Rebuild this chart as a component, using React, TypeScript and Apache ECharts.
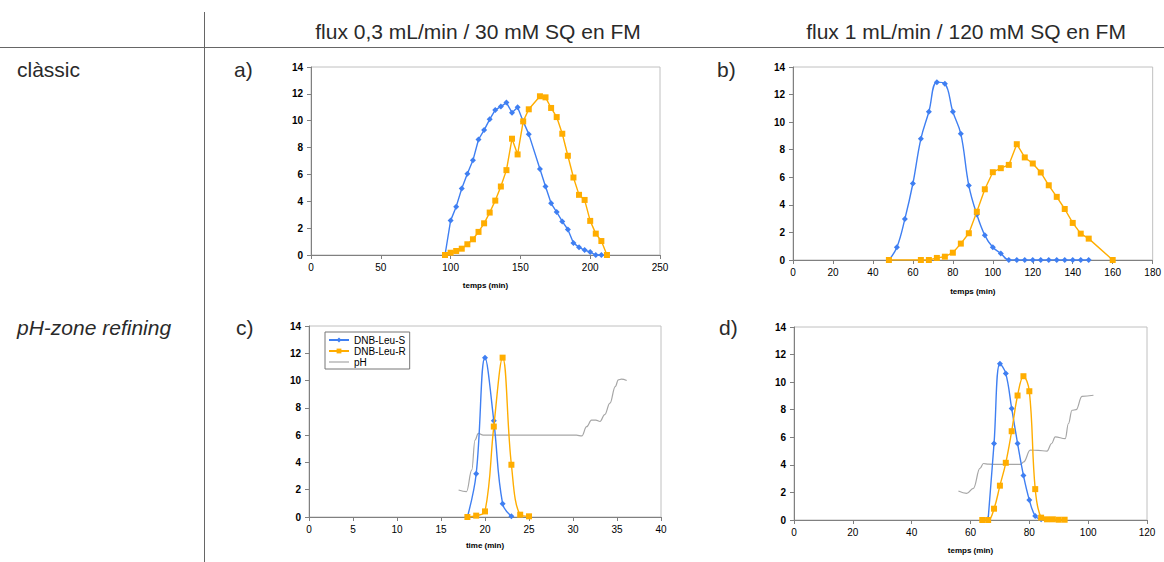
import React, { useEffect, useRef } from "react";
import * as echarts from "echarts";

// ---------- data ----------
// panel a) classic, 0.3 mL/min
const aTime = [96, 100, 104, 108, 112, 116, 120, 124, 128, 132, 136, 140, 144, 148, 152, 156, 164, 168, 172, 176, 180, 184, 188, 192, 196, 200, 204, 208, 212];
const aS = [0, 2.56, 3.6, 4.95, 6.05, 7.05, 8.6, 9.3, 10.1, 10.8, 11.05, 11.35, 10.6, 11.0, 9.95, 9.0, 6.4, 5.1, 3.85, 3.2, 2.5, 1.9, 0.9, 0.57, 0.37, 0.22, 0, 0, null];
const aR = [0, 0.17, 0.3, 0.47, 0.8, 1.17, 1.72, 2.36, 3.16, 4.05, 5.1, 6.32, 8.66, 7.49, 9.95, 10.85, 11.82, 11.74, 10.95, 10.27, 9.03, 7.39, 5.77, 4.48, 4.1, 2.54, 1.59, 1.04, 0];

// panel b) classic, 1 mL/min
const bTimeS = [48, 52, 56, 60, 64, 68, 72, 76, 80, 84, 88, 92, 96, 100, 104, 108, 112, 116, 120, 124, 128, 132, 136, 140, 144, 148];
const bS = [0, 0.92, 2.98, 5.55, 8.79, 10.75, 12.9, 12.79, 10.75, 9.15, 5.4, 3.3, 1.79, 0.92, 0.48, 0, 0, 0, 0, 0, 0, 0, 0, 0, 0, 0];
const bTimeR = [48, 64, 68, 72, 76, 80, 84, 88, 92, 96, 100, 104, 108, 112, 116, 120, 124, 128, 132, 136, 140, 144, 148, 160];
const bR = [0, 0, 0, 0.15, 0.24, 0.53, 1.19, 1.94, 3.5, 5.13, 6.37, 6.66, 6.9, 8.4, 7.44, 7.0, 6.35, 5.42, 4.58, 3.7, 2.69, 1.91, 1.55, 0];

// panel c) pH-zone refining, 0.3 mL/min
const cTime = [18, 19, 20, 21, 22, 23, 24, 25];
const cS = [0, 3.17, 11.68, 7.05, 0.98, 0.05, null, null];
const cR = [0, 0.1, 0.41, 6.63, 11.68, 3.83, 0.17, 0.05];
const cPhTime = [17, 17.9, 18.5, 18.86, 19.24, 19.8, 21, 23, 25, 27, 29, 30.4, 31.0, 31.55, 32.1, 32.6, 33.07, 33.6, 34.2, 34.8, 35.15, 35.5, 36.1];
const cPh = [1.98, 1.86, 3.45, 5.64, 6.13, 6.0, 6.0, 6.0, 6.0, 6.0, 6.0, 6.0, 5.94, 6.62, 7.1, 7.1, 7.0, 7.5, 8.34, 9.56, 10.05, 10.1, 10.0];

// panel d) pH-zone refining, 1 mL/min
const dTimeS = [66, 68, 70, 72, 74, 76, 78, 80, 82, 84];
const dS = [0.07, 5.55, 11.34, 10.62, 8.09, 5.55, 3.23, 1.45, 0.29, 0.05];
const dTimeR = [64, 66, 68, 70, 72, 74, 76, 78, 80, 82, 84, 86, 88, 90, 92];
const dR = [0, 0, 0.82, 2.49, 4.15, 6.44, 9.03, 10.43, 9.34, 2.24, 0.17, 0.05, 0.05, 0.02, 0.02];
const dPhTime = [55.9, 58.7, 61, 63.2, 64.4, 66.1, 70, 74, 77, 78.1, 80.3, 83, 86, 87.6, 88.8, 92.2, 93.3, 94.5, 95.9, 97.9, 101.8];
const dPh = [2.1, 1.93, 2.3, 3.74, 4.1, 4.05, 4.03, 4.03, 4.03, 4.22, 5.07, 5.05, 5.0, 5.55, 6.03, 5.9, 7.0, 7.96, 8.0, 8.97, 9.05];

const headers = ["flux 0,3 mL/min / 30 mM SQ en FM", "flux 1 mL/min / 120 mM SQ en FM"];
const rowLabels = ["clàssic", "pH-zone refining"];
const panelLabels = ["a)", "b)", "c)", "d)"];
const xTitles = ["temps (min)", "temps (min)", "time (min)", "temps (min)"];
const xMax = [250, 180, 40, 120];
const xStep = [50, 20, 5, 20];
const seriesNames = ["DNB-Leu-S", "DNB-Leu-R", "pH"];

const FONT = "'Liberation Sans', Arial, Helvetica, sans-serif";
const BLUE = "#3f7ff2";
const ORANGE = "#ffad00";
const GRAY = "#a6a6a6";

const zip = (xs: number[], ys: (number | null)[]) => xs.map((x, i) => [x, ys[i]]);

export default function App() {
  const ref = useRef<HTMLDivElement>(null);
  useEffect(() => {
    if (!ref.current) return;
    const chart = echarts.init(ref.current, undefined, { renderer: "svg" });

    const grids = [
      { left: 311, top: 67, width: 349, height: 188 },
      { left: 793, top: 67, width: 360, height: 193 },
      { left: 309, top: 326, width: 352, height: 191 },
      { left: 794, top: 327, width: 353, height: 193 },
    ];
    const nameGaps = [26, 27, 24, 26];

    const xAxes = grids.map((_, i) => ({
      type: "value",
      gridIndex: i,
      min: 0,
      max: xMax[i],
      interval: xStep[i],
      name: xTitles[i],
      nameLocation: "middle",
      nameGap: nameGaps[i],
      nameTextStyle: { fontFamily: FONT, fontSize: 8, fontWeight: "bold", color: "#000" },
      axisLine: { show: true, lineStyle: { color: "#808080", width: 1 } },
      axisTick: { show: true, inside: false, length: 4, lineStyle: { color: "#808080" } },
      axisLabel: { fontFamily: FONT, fontSize: 10, color: "#000", margin: 7 },
      splitLine: { show: false },
    }));
    const yAxes = grids.map((_, i) => ({
      type: "value",
      gridIndex: i,
      min: 0,
      max: 14,
      interval: 2,
      axisLine: { show: true, lineStyle: { color: "#808080", width: 1 } },
      axisTick: { show: true, inside: false, length: 4, lineStyle: { color: "#808080" } },
      axisLabel: { fontFamily: FONT, fontSize: 10, fontWeight: "bold", color: "#000", margin: 8 },
      splitLine: { show: false },
    }));

    const sLine = (i: number, data: any[], smooth: number | boolean) => ({
      name: seriesNames[0],
      type: "line",
      xAxisIndex: i,
      yAxisIndex: i,
      data,
      smooth,
      symbol: "diamond",
      symbolSize: 6,
      showAllSymbol: true,
      lineStyle: { color: BLUE, width: 1.4 },
      itemStyle: { color: BLUE },
      z: 3,
    });
    const rLine = (i: number, data: any[], smooth: number | boolean) => ({
      name: seriesNames[1],
      type: "line",
      xAxisIndex: i,
      yAxisIndex: i,
      data,
      smooth,
      symbol: "rect",
      symbolSize: 6,
      showAllSymbol: true,
      lineStyle: { color: ORANGE, width: 1.4 },
      itemStyle: { color: ORANGE },
      z: 4,
    });
    const phLine = (i: number, data: any[]) => ({
      name: seriesNames[2],
      type: "line",
      xAxisIndex: i,
      yAxisIndex: i,
      data,
      smooth: 0.4,
      smoothMonotone: "x",
      symbol: "none",
      lineStyle: { color: GRAY, width: 1.2 },
      itemStyle: { color: GRAY },
      z: 2,
    });

    const series = [
      sLine(0, zip(aTime, aS), false),
      rLine(0, zip(aTime, aR), false),
      sLine(1, zip(bTimeS, bS), 0.4),
      rLine(1, zip(bTimeR, bR), false),
      phLine(2, zip(cPhTime, cPh)),
      sLine(2, zip(cTime, cS), 0.4),
      rLine(2, zip(cTime, cR), 0.4),
      phLine(3, zip(dPhTime, dPh)),
      sLine(3, zip(dTimeS, dS), 0.4),
      rLine(3, zip(dTimeR, dR), 0.4),
    ];

    const bigText = (text: string, x: number, y: number, align: string, italic = false) => ({
      type: "text",
      x,
      y,
      style: {
        text,
        fill: "#2a2a2a",
        fontFamily: FONT,
        fontSize: 21,
        fontStyle: italic ? "italic" : "normal",
        textAlign: align,
        textVerticalAlign: "middle",
      },
    });

    const graphic = [
      { type: "line", shape: { x1: 0, y1: 47.5, x2: 1164, y2: 47.5 }, style: { stroke: "#666", lineWidth: 1 } },
      { type: "line", shape: { x1: 204.5, y1: 12, x2: 204.5, y2: 562 }, style: { stroke: "#666", lineWidth: 1 } },
      bigText(headers[0], 478, 31, "center"),
      bigText(headers[1], 966, 31, "center"),
      bigText(rowLabels[0], 17, 69, "left"),
      bigText(rowLabels[1], 17, 327, "left", true),
      bigText(panelLabels[0], 234, 69, "left"),
      bigText(panelLabels[1], 717, 69, "left"),
      bigText(panelLabels[2], 236, 327, "left"),
      bigText(panelLabels[3], 719, 327, "left"),
    ];

    chart.setOption({
      animation: false,
      backgroundColor: "#fff",
      grid: grids.map((g) => ({ ...g, show: true, borderColor: "#c0c0c0", borderWidth: 1, backgroundColor: "transparent" })),
      xAxis: xAxes,
      yAxis: yAxes,
      legend: {
        show: true,
        left: 325,
        top: 332,
        orient: "vertical",
        itemGap: 1,
        itemWidth: 20,
        itemHeight: 6,
        padding: [3, 4, 2, 3],
        borderColor: "#777",
        borderWidth: 1,
        backgroundColor: "#fff",
        textStyle: { fontFamily: FONT, fontSize: 10, color: "#000" },
        data: [
          { name: seriesNames[0] },
          { name: seriesNames[1] },
          { name: seriesNames[2], icon: "path://M0,0L20,0L20,1.2L0,1.2Z" },
        ],
      },
      series,
      graphic,
    });
    return () => chart.dispose();
  }, []);
  return <div ref={ref} style={{ position: "fixed", left: 0, top: 0, width: 1164, height: 562 }} />;
}
